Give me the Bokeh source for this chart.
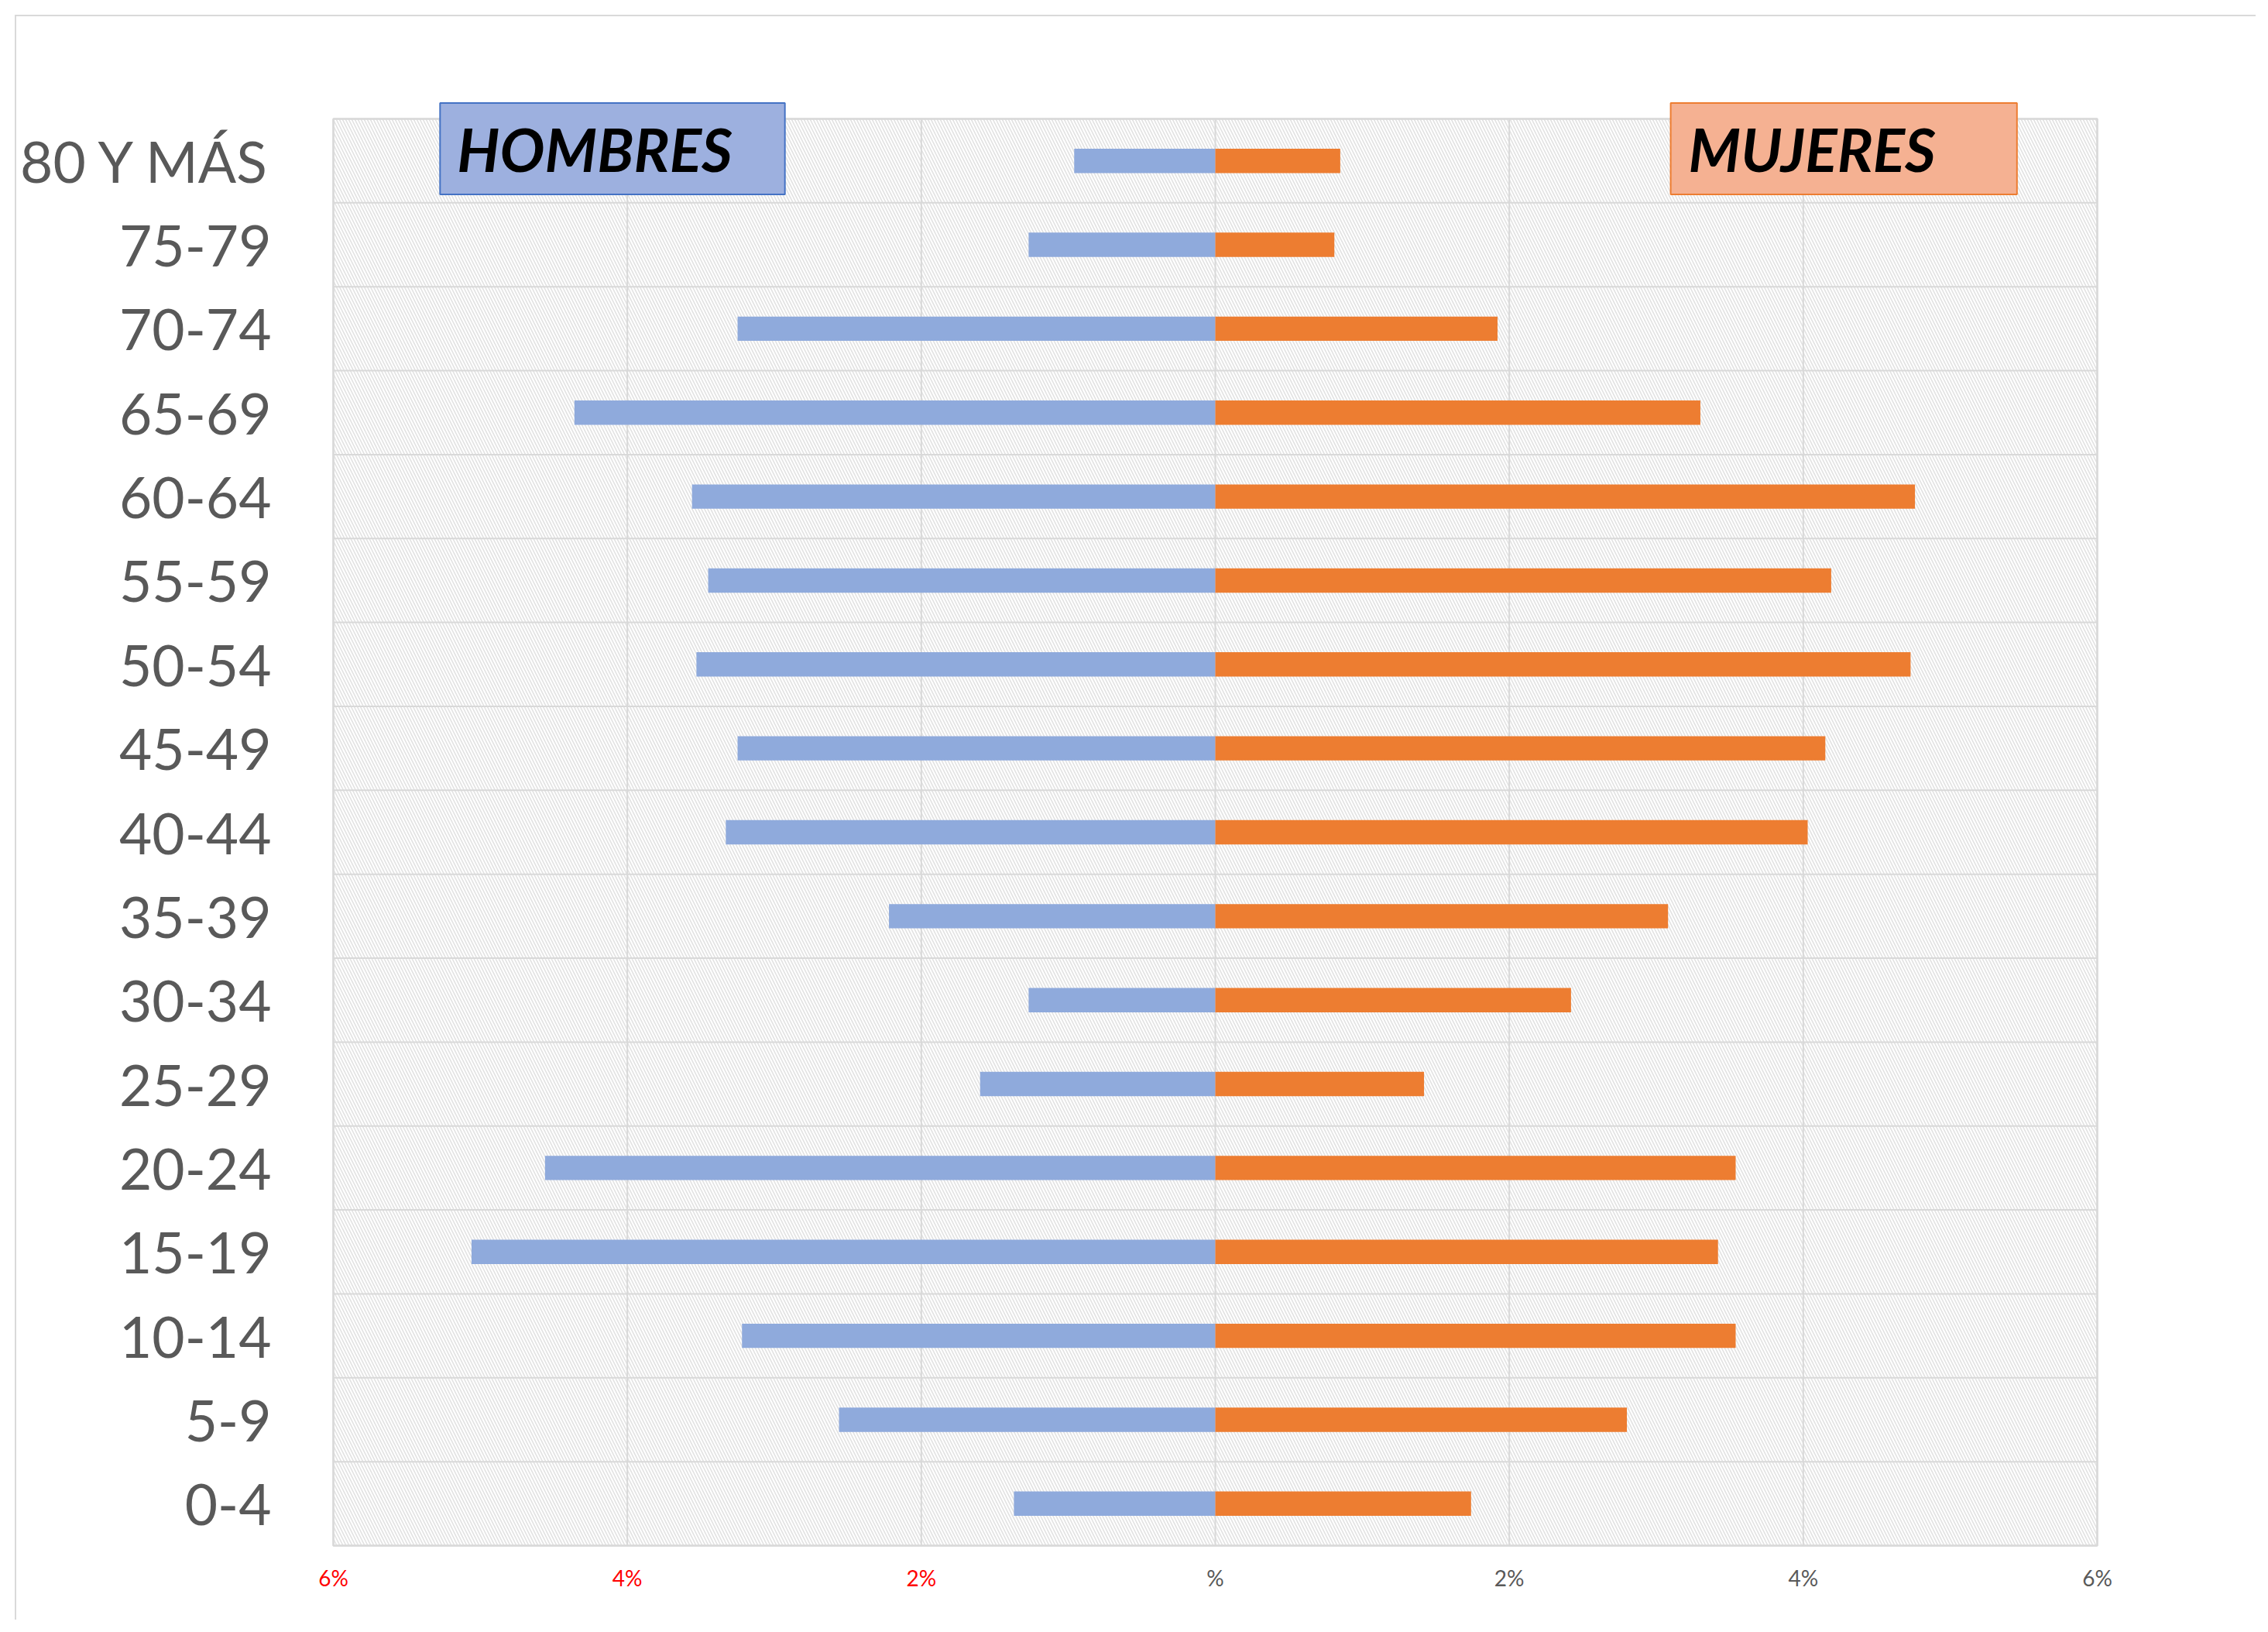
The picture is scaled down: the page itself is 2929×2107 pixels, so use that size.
from bokeh.plotting import figure
from bokeh.models import Range1d, FixedTicker, Label, ColumnDataSource
from bokeh.core.properties import value
from bokeh.embed import file_html
from bokeh.resources import INLINE

# ---- data (percent of population) ----
categories = ["0-4", "5-9", "10-14", "15-19", "20-24", "25-29", "30-34", "35-39",
              "40-44", "45-49", "50-54", "55-59", "60-64", "65-69", "70-74", "75-79",
              "80 Y MÁS"]
hombres = [1.37, 2.56, 3.22, 5.06, 4.56, 1.60, 1.27, 2.22,
           3.33, 3.25, 3.53, 3.45, 3.56, 4.36, 3.25, 1.27, 0.96]
mujeres = [1.74, 2.80, 3.54, 3.42, 3.54, 1.42, 2.42, 3.08,
           4.03, 4.15, 4.73, 4.19, 4.76, 3.30, 1.92, 0.81, 0.85]
tick_values = [-6, -4, -2, 0, 2, 4, 6]
tick_labels = ["6%", "4%", "2%", "%", "2%", "4%", "6%"]
tick_colors = ["#ff0000", "#ff0000", "#ff0000", "#595959", "#595959", "#595959", "#595959"]

n = len(categories)
ypos = list(range(n))
x_min, x_max = tick_values[0], tick_values[-1]
y_min, y_max = -0.5, n - 0.5

# layout (pixels)
area_w, area_h = 2278, 1842            # size of the hatched plot area
px_x = area_w / (x_max - x_min)        # pixels per percent
px_y = area_h / (y_max - y_min)        # pixels per row
pad_l, pad_r, pad_t, pad_b = 30, 30, 22, 70
label_gap = 41                          # tick-label centre below the plot area
shift = 21                              # outer chart-area border offset + width
frame_w = area_w + pad_l + pad_r
frame_h = area_h + pad_t + pad_b
border_l, border_t = 400 - shift, 131 - shift
total_w, total_h = 2929 - shift - 16, 2107 - shift - 16

p = figure(width=total_w, height=total_h, output_backend="svg",
           toolbar_location=None,
           x_range=Range1d(x_min - pad_l / px_x, x_max + pad_r / px_x),
           y_range=Range1d(y_min - pad_b / px_y, y_max + pad_t / px_y),
           frame_width=frame_w, frame_height=frame_h,
           min_border_left=border_l, min_border_top=border_t,
           min_border_right=total_w - border_l - frame_w,
           min_border_bottom=total_h - border_t - frame_h)
p.styles = {"margin-left": "19px", "margin-top": "19px",
            "border-left": "2px solid #d9d9d9", "border-top": "2px solid #d9d9d9"}
p.background_fill_color = "white"
p.border_fill_color = "white"
p.outline_line_color = None
p.xgrid.visible = False
p.ygrid.visible = False
p.xaxis.visible = False

# hatched plot area with its border
p.quad(left=[x_min], right=[x_max], bottom=[y_min], top=[y_max],
       fill_color="white", line_color="#d9d9d9", line_width=2.5,
       hatch_pattern="\\", hatch_color="#e2e2e2", hatch_scale=8, hatch_weight=1.6)

# grid lines
p.segment(x0=tick_values, y0=[y_min] * len(tick_values), x1=tick_values,
          y1=[y_max] * len(tick_values), line_color="#d9d9d9", line_width=2)
bounds = [i + 0.5 for i in range(-1, n)]
p.segment(x0=[x_min] * len(bounds), y0=bounds, x1=[x_max] * len(bounds), y1=bounds,
          line_color="#d9d9d9", line_width=2)

# bars
src = ColumnDataSource(dict(y=ypos, h=[-v for v in hombres], m=mujeres))
p.hbar(y="y", left="h", right=0, height=0.29, source=src,
       fill_color="#8faadc", line_color=None)
p.hbar(y="y", left=0, right="m", height=0.29, source=src,
       fill_color="#ed7d31", line_color=None)

# x tick labels (left half red, right half gray)
tsrc = ColumnDataSource(dict(x=tick_values, y=[y_min - label_gap / px_y] * len(tick_values),
                             t=tick_labels, c=tick_colors))
p.text(x="x", y="y", text="t", text_color="c", source=tsrc,
       text_font=value("Lato"), text_font_size="28px",
       text_align="center", text_baseline="middle")

# y axis
p.yaxis.ticker = FixedTicker(ticks=ypos)
p.yaxis.major_label_overrides = {i: c for i, c in enumerate(categories)}
p.yaxis.major_label_text_font = "Lato"
p.yaxis.major_label_text_font_size = "73px"
p.yaxis.major_label_text_color = "#595959"
p.yaxis.major_label_standoff = 44
p.yaxis.major_tick_line_color = None
p.yaxis.minor_tick_line_color = None
p.yaxis.axis_line_color = None

# legend boxes
box_h = Label(x=-5.274, y=16.145, text="HOMBRES", text_font="Lato",
              text_font_style="bold italic", text_font_size="77px",
              text_color="black", text_align="left", text_baseline="middle",
              background_fill_color="#9db0df", border_line_color="#4472c4",
              border_line_width=2,
              padding=dict(left=22, right=68, top=13, bottom=13))
box_m = Label(x=3.098, y=16.145, text="MUJERES", text_font="Lato",
              text_font_style="bold italic", text_font_size="77px",
              text_color="black", text_align="left", text_baseline="middle",
              background_fill_color="#f5b192", border_line_color="#ed7d31",
              border_line_width=2,
              padding=dict(left=23, right=105, top=13, bottom=13))
p.add_layout(box_h)
p.add_layout(box_m)

open("out.html", "w").write(file_html(p, INLINE))
